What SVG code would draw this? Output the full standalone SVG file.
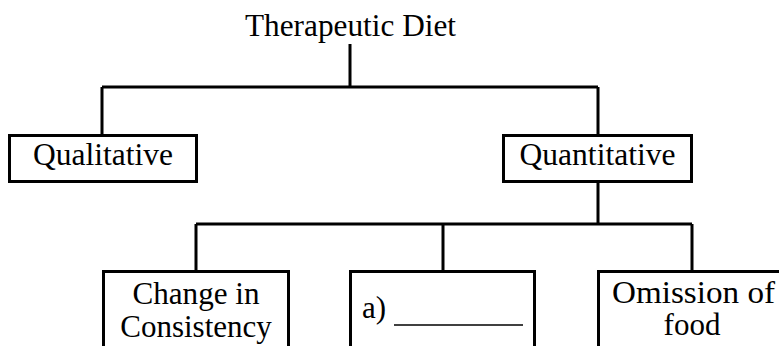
<svg xmlns="http://www.w3.org/2000/svg" width="779" height="346" viewBox="0 0 779 346" font-family="Liberation Serif, DejaVu Serif, serif">
<style>
text{font-family:"Liberation Serif","DejaVu Serif",serif;font-size:31px;fill:#000;text-anchor:middle}
.box{fill:#fff;stroke:#000;stroke-width:3}
.ln{fill:none;stroke:#000;stroke-width:3}
</style>
<rect width="779" height="346" fill="#fff"/>
<g id="connectors">
<path class="ln" d="M350,44 V87 M102,87 H598 M102,87 V135 M598,87 V135 M598,182 V224 M196,224 H692 M196,224 V271 M443,224 V271 M692,224 V271"/>
</g>
<g id="title"><text x="350.5" y="36" textLength="211" lengthAdjust="spacingAndGlyphs">Therapeutic Diet</text></g>
<g id="qualitative"><rect class="box" x="9.5" y="135.5" width="187" height="46"/><text x="103" y="165" textLength="140" lengthAdjust="spacingAndGlyphs">Qualitative</text></g>
<g id="quantitative"><rect class="box" x="503.5" y="135.5" width="188" height="46"/><text x="597.5" y="165" textLength="156" lengthAdjust="spacingAndGlyphs">Quantitative</text></g>
<g id="consistency"><rect class="box" x="103.5" y="271.5" width="185" height="90"/><text x="196" y="304" textLength="127" lengthAdjust="spacingAndGlyphs">Change in</text><text x="196" y="337">Consistency</text></g>
<g id="blank"><rect class="box" x="350.5" y="271.5" width="184" height="90"/><text x="362" y="318" style="text-anchor:start">a)</text><line x1="394" y1="325" x2="523" y2="325" stroke="#000" stroke-width="1.5"/></g>
<g id="omission"><rect class="box" x="598.5" y="271.5" width="188" height="90"/><text x="693.5" y="303" textLength="163" lengthAdjust="spacingAndGlyphs">Omission of</text><text x="692" y="335">food</text></g>
</svg>
